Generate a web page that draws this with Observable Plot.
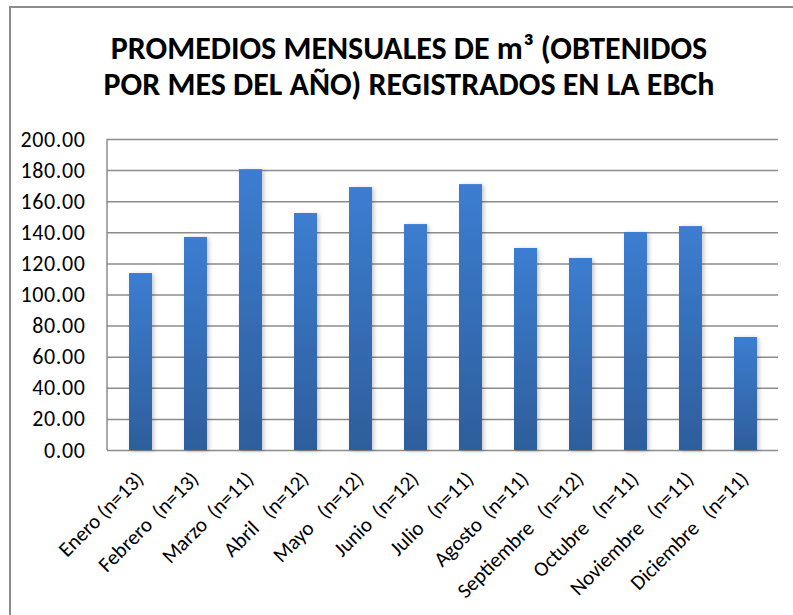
<!DOCTYPE html>
<html>
<head>
<meta charset="utf-8">
<script src="https://cdn.jsdelivr.net/npm/d3@7"></script>
<script src="https://cdn.jsdelivr.net/npm/@observablehq/plot@0.6"></script>
<style>
  html, body { margin: 0; padding: 0; background: #fff; overflow: hidden; }
  #wrap { position: relative; width: 793px; height: 615px; overflow: hidden; font-family: Carlito, Lato, sans-serif; }
  #frame { position: absolute; left: 9px; top: 6px; width: 820px; height: 640px; border-left: 2px solid #8c8c8c; border-top: 2px solid #8c8c8c; box-sizing: border-box; }
  #title { position: absolute; left: 409px; top: 31px; transform: translateX(-50%); white-space: nowrap; text-align: center; font-weight: 900; font-size: 32px; line-height: 36px; color: #000; }
  #chart { position: absolute; left: 0; top: 110px; }
  #chart svg text { white-space: pre; }
</style>
</head>
<body>
<div id="wrap">
  <div id="frame"></div>
  <div id="title">PROMEDIOS MENSUALES DE m³ (OBTENIDOS<br>POR MES DEL AÑO) REGISTRADOS EN LA EBCh</div>
  <div id="chart"></div>
</div>
<script>
const months = ["Enero", "Febrero", "Marzo", "Abril", "Mayo", "Junio", "Julio", "Agosto", "Septiembre", "Octubre", "Noviembre", "Diciembre"];
const gaps = [" ", "  ", "  ", "   ", "   ", "  ", "   ", "  ", "   ", "   ", "   ", "   "];
const counts = [13, 13, 11, 12, 12, 12, 11, 11, 12, 11, 11, 11];
const values = [113.8, 137.0, 180.6, 152.4, 169.1, 145.3, 171.0, 129.9, 123.5, 140.2, 144.0, 72.7];
const yTicks = [0, 20, 40, 60, 80, 100, 120, 140, 160, 180, 200];

const labels = months.map((m, i) => `${m}${gaps[i]}(n=${counts[i]})`);
const data = months.map((m, i) => ({label: labels[i], value: values[i]}));

const defs = () => {
  const g = d3.create("svg:defs");
  const lg = g.append("linearGradient").attr("id", "barGrad").attr("x1", 0).attr("y1", 0).attr("x2", 0).attr("y2", 1);
  lg.append("stop").attr("offset", "0%").attr("stop-color", "#3c7dd1");
  lg.append("stop").attr("offset", "100%").attr("stop-color", "#2e5e9c");
  const f = g.append("filter").attr("id", "shadow").attr("x", "-30%").attr("y", "-5%").attr("width", "170%").attr("height", "115%");
  f.append("feDropShadow").attr("dx", 2).attr("dy", 1).attr("stdDeviation", 2).attr("flood-color", "#000").attr("flood-opacity", 0.22);
  return g.node();
};

const leftLine = (index, scales, values, dims) => {
  const x0 = dims.marginLeft;
  return d3.create("svg:line")
    .attr("x1", x0).attr("x2", x0)
    .attr("y1", scales.y(200)).attr("y2", scales.y(0))
    .attr("stroke", "#8c8c8c").attr("stroke-width", 1.5).node();
};

const chart = Plot.plot({
  width: 793,
  height: 505,
  marginTop: 29,
  marginLeft: 107,
  marginRight: 15,
  marginBottom: 165,
  style: {fontFamily: "Carlito, Lato, sans-serif", fontSize: "21px", color: "#000", background: "transparent"},
  x: {domain: labels, paddingInner: 0.59, paddingOuter: 0.295, axis: null},
  y: {domain: [0, 200], axis: null},
  marks: [
    defs,
    Plot.ruleY(yTicks, {stroke: "#8c8c8c", strokeWidth: 1.5}),
    leftLine,
    Plot.barY(data, {x: "label", y: "value", fill: "url(#barGrad)"}),
    Plot.axisY(yTicks, {tickSize: 0, tickPadding: 22, tickFormat: d3.format(".2f"), fontSize: 22, label: null}),
    Plot.text(data, {x: "label", text: "label", frameAnchor: "bottom", rotate: -45, textAnchor: "end", lineAnchor: "middle", dy: 25, dx: -1, fontSize: 21})
  ]
});
d3.select(chart).selectAll("g[aria-label=bar] rect").attr("filter", "url(#shadow)");
d3.select(chart).selectAll("g[aria-label='y-axis tick label'] text").style("letter-spacing", "0.6px");
document.getElementById("chart").appendChild(chart);
</script>
</body>
</html>
